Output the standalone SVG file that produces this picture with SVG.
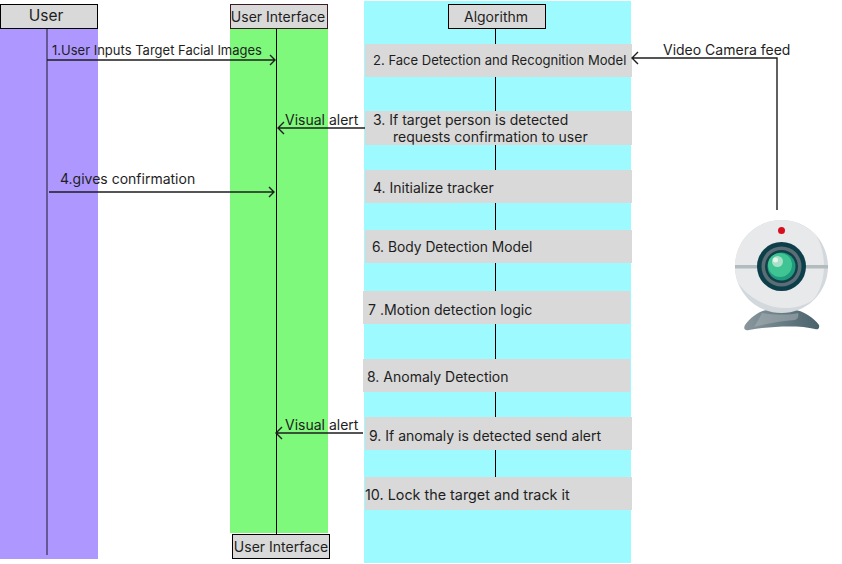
<svg xmlns="http://www.w3.org/2000/svg" width="842" height="564" viewBox="0 0 842 564">
<defs>
<style>
text{font-family:Inter,"Noto Sans","Liberation Sans",sans-serif;font-size:14px;fill:#1e1e1e}
.hd{fill:#d9d9d9;stroke:#000;stroke-width:1}
.step{fill:#d9d9d9}
.life{stroke:#000;stroke-width:1;fill:none}
.arrow{stroke:#1e1e1e;stroke-width:1.4;fill:none}
</style>
<linearGradient id="base" x1="0" x2="1" y1="0" y2="0"><stop offset="0" stop-color="#8a979d"/><stop offset="1" stop-color="#48626c"/></linearGradient>
</defs>
<g id="lane-user"><rect x="0" y="28" width="98" height="531" fill="#ae98ff"/></g>
<g id="lane-ui"><rect x="230" y="28" width="98" height="505" fill="#7ff97b"/></g>
<g id="lane-algorithm"><rect x="364" y="1" width="267" height="562" fill="#9dfaff"/></g>
<g id="lifelines">
<path class="life" d="M47 28V555" stroke-opacity="0.6" style="stroke-width:1.4"/>
<path class="life" d="M276.500 29V534"/>
<path class="life" d="M495.500 28V478"/>
</g>
<g id="node-user"><rect class="hd" x="0.500" y="4.500" width="97" height="24"/><text x="46" y="21" text-anchor="middle" style="font-size:15.500px">User</text></g>
<g id="node-ui-top"><rect class="hd" x="230.500" y="4.500" width="97" height="24" style="stroke:#3c1c22"/><text x="278" y="21.500" text-anchor="middle">User Interface</text></g>
<g id="node-ui-bottom"><rect class="hd" x="232.500" y="534.500" width="97" height="24"/><text x="281" y="551.500" text-anchor="middle">User Interface</text></g>
<g id="node-algorithm"><rect class="hd" x="448.500" y="4.500" width="97" height="24"/><text x="496" y="21.500" text-anchor="middle">Algorithm</text></g>
<g id="step-2"><rect class="step" x="365" y="44" width="267" height="33"/><text x="373" y="65" style="font-size:13.050px">2. Face Detection and Recognition Model</text></g>
<g id="step-3"><rect class="step" x="365" y="111" width="267" height="34"/><text x="373" y="125">3. If target person is detected</text><text x="393" y="142">requests confirmation to user</text></g>
<g id="step-4"><rect class="step" x="365" y="170" width="267" height="33"/><text x="373" y="193">4. Initialize tracker</text></g>
<g id="step-6"><rect class="step" x="365" y="230" width="267" height="33"/><text x="372" y="252" style="font-size:13.800px">6. Body Detection Model</text></g>
<g id="step-7"><rect class="step" x="363" y="291" width="267" height="33"/><text x="368" y="315" style="font-size:14.100px">7 .Motion detection logic</text></g>
<g id="step-8"><rect class="step" x="363" y="359" width="267" height="33"/><text x="367" y="382">8. Anomaly Detection</text></g>
<g id="step-9"><rect class="step" x="365" y="417" width="267" height="33"/><text x="369" y="441">9. If anomaly is detected send alert</text></g>
<g id="step-10"><rect class="step" x="365" y="477" width="267" height="33"/><text x="365" y="500" style="font-size:14.350px">10. Lock the target and track it</text></g>
<g id="connectors">
<path class="arrow" d="M47 60H275M270 55L275 60L270 65"/>
<path class="arrow" d="M365 128H278M284 122L278 128L284 134"/>
<path class="arrow" d="M49 192H274M269 187L274 192L269 197"/>
<path class="arrow" d="M363 433H276M282 427L276 433L282 439"/>
<path class="arrow" d="M777 210V58H632M638 52L632 58L638 64"/>
</g>
<g id="connector-labels">
<text x="52" y="55" style="font-size:13px">1.User Inputs Target Facial Images</text>
<text x="285" y="125">Visual alert</text>
<text x="60" y="184">4.gives confirmation</text>
<text x="285" y="430">Visual alert</text>
<text x="663" y="55">Video Camera feed</text>
</g>
<g id="node-camera">
<path d="M745 325C750 318 760 310 768 310H793C803 310 814 318 819 325C820 329 817 330 815 329C800 325 770 326 749 330C745 331 743 329 745 325Z" fill="url(#base)"/>
<path d="M762 313C775 315 790 315 798 313C799 316 798 319 795 320C782 321 770 323 754 327C757 322 760 317 762 313Z" fill="#a6b1b5" opacity="0.55"/>
<circle cx="781.500" cy="266.500" r="46.500" fill="#d2d8dc"/>
<path d="M781.500 220A46.500 46.500 0 0 0 738 283C752 303 785 318 813 300C826 285 828 255 816 235C806 226 795 220 781.500 220Z" fill="#e8e9eb"/>
<rect x="735" y="265" width="93" height="3.500" fill="#b2bcbf"/>
<circle cx="781.500" cy="230.500" r="3.500" fill="#d80d1e"/>
<circle cx="781.500" cy="266.500" r="24.500" fill="#0d3f4a"/>
<circle cx="781.500" cy="266.500" r="20" fill="#5c6e75"/>
<circle cx="781.500" cy="266.500" r="16.500" fill="#113f4a"/>
<circle cx="781.500" cy="266.500" r="14" fill="#1f9a7c"/>
<circle cx="780" cy="265" r="12" fill="#3fc493"/>
<circle cx="777.500" cy="261.500" r="5.500" fill="#a9e0c8"/>
<circle cx="775.500" cy="260" r="2.500" fill="#e4f5ee"/>
</g>
</svg>
